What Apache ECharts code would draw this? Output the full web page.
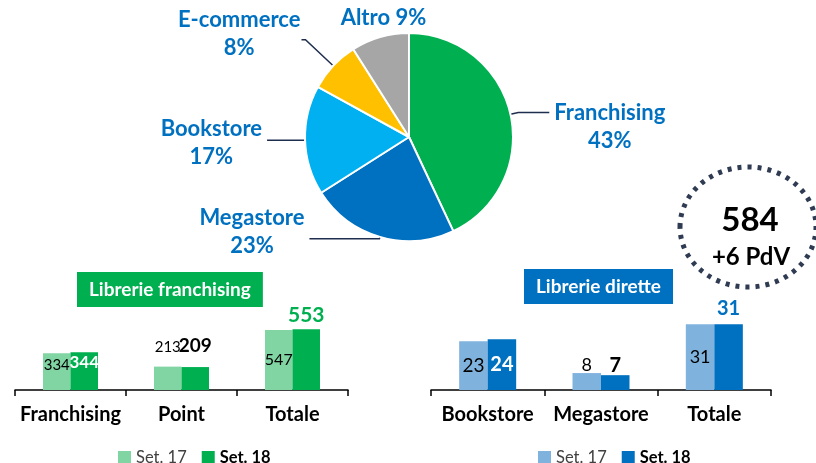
<!DOCTYPE html>
<html>
<head>
<meta charset="utf-8">
<script src="https://cdn.jsdelivr.net/npm/echarts@6/dist/echarts.min.js"></script>
<style>
  html, body { margin: 0; padding: 0; background: #fff; }
  #chart { width: 816px; height: 463px; }
</style>
</head>
<body>
<div id="chart"></div>
<script>
// ---- data ----
const pieNames = ['Franchising', 'Megastore', 'Bookstore', 'E-commerce', 'Altro'];
const pieValues = [43, 23, 17, 8, 9];

const franchCategories = ['Franchising', 'Point', 'Totale'];
const franchSet17 = [334, 213, 547];
const franchSet18 = [344, 209, 553];

const diretteCategories = ['Bookstore', 'Megastore', 'Totale'];
const diretteSet17 = [23, 8, 31];
const diretteSet18 = [24, 7, 31];

const seriesNames = ['Set. 17', 'Set. 18'];
const panelTitles = ['Librerie franchising', 'Librerie dirette'];
const totalStores = '584';
const totalDelta = '+6 PdV';

// ---- styles ----
const FONT = 'Lato';
const pieColors = ['#00B050', '#0070C0', '#00B0F0', '#FFC000', '#A6A6A6'];
const pieLabelTweaks = [
  { labelLine: { length: 8, length2: 31 }, label: { padding: [29, 0, 0, 0] } },
  { labelLine: { length: 2, length2: 70 }, label: { padding: [0, 0, 13, 0] } },
  { labelLine: { length: 2, length2: 36 }, label: { padding: [5, 0, 0, 0] } },
  { labelLine: { length: 38, length2: 4 }, label: { padding: [0, 0, 11, 0], distanceToLabelLine: 1 } },
  { labelLine: { show: false, length: 10, length2: 0 }, label: {} }
];
const greenLight = '#80D5A2', greenDark = '#00B050';
const blueLight = '#7FB3DE', blueDark = '#0070C0';

const lab = (o) => Object.assign({ show: true, fontFamily: FONT, color: '#000', fontSize: 16 }, o);
const franch17Labels = [
  lab({ position: 'insideTop', distance: 4, fontSize: 15 }),
  lab({ position: 'top', distance: 12, fontSize: 15 }),
  lab({ position: 'inside', fontSize: 16 })
];
const franch18Labels = [
  lab({ position: 'insideTop', distance: 2, color: '#fff', fontWeight: 'bold', fontSize: 17 }),
  lab({ position: 'top', distance: 12, fontWeight: 'bold', fontSize: 19 }),
  lab({ position: 'top', distance: 4, color: greenDark, fontWeight: 'bold', fontSize: 21 })
];
const dir17Labels = [
  lab({ position: 'inside', fontSize: 19 }),
  lab({ position: 'top', distance: -1, fontSize: 18 }),
  lab({ position: 'inside', fontSize: 18 })
];
const dir18Labels = [
  lab({ position: 'inside', color: '#fff', fontWeight: 'bold', fontSize: 20 }),
  lab({ position: 'top', distance: 0, fontWeight: 'bold', fontSize: 20 }),
  lab({ position: 'top', distance: 6, color: blueDark, fontWeight: 'bold', fontSize: 20 })
];

const withLabels = (vals, labels) => vals.map((v, i) => ({ value: v, label: labels[i] }));

const pieData = pieNames.map((n, i) => ({
  name: n,
  value: pieValues[i],
  itemStyle: { color: pieColors[i] },
  label: pieLabelTweaks[i].label,
  labelLine: pieLabelTweaks[i].labelLine
}));

const axisCommon = {
  type: 'category',
  axisLine: { lineStyle: { color: '#000', width: 1.5 } },
  axisTick: { show: true, length: 6, lineStyle: { color: '#000', width: 1.5 } },
  axisLabel: { interval: 0, fontFamily: FONT, fontWeight: 'bold', fontSize: 20, color: '#000', margin: 15 }
};

const legendCommon = {
  orient: 'horizontal',
  top: 449,
  padding: 0,
  itemWidth: 13,
  itemHeight: 13,
  itemGap: 15,
  icon: 'rect',
  textStyle: { fontFamily: FONT, fontSize: 16.5, color: '#404040' }
};

const chart = echarts.init(document.getElementById('chart'), null, { renderer: 'canvas' });
chart.setOption({
  animation: false,
  textStyle: { fontFamily: FONT },
  title: [
    { text: panelTitles[0], left: 77, top: 272, backgroundColor: greenDark, padding: [7, 12],
      textStyle: { color: '#fff', fontFamily: FONT, fontWeight: 'bold', fontSize: 19, lineHeight: 21 } },
    { text: panelTitles[1], left: 524, top: 269, backgroundColor: blueDark, padding: [7, 12],
      textStyle: { color: '#fff', fontFamily: FONT, fontWeight: 'bold', fontSize: 19, lineHeight: 21 } }
  ],
  legend: [
    Object.assign({}, legendCommon, { left: 118, data: [
      { name: seriesNames[0], itemStyle: { color: greenLight } },
      { name: seriesNames[1], itemStyle: { color: greenDark }, textStyle: { fontWeight: 'bold', color: '#000' } }
    ] }),
    Object.assign({}, legendCommon, { left: 538, data: [
      { name: seriesNames[0], itemStyle: { color: blueLight } },
      { name: seriesNames[1], itemStyle: { color: blueDark }, textStyle: { fontWeight: 'bold', color: '#000' } }
    ] })
  ],
  grid: [
    { left: 15, right: 468, top: 300, bottom: 73 },
    { left: 431, right: 45, top: 300, bottom: 73 }
  ],
  xAxis: [
    Object.assign({}, axisCommon, { gridIndex: 0, data: franchCategories }),
    Object.assign({}, axisCommon, { gridIndex: 1, data: diretteCategories })
  ],
  yAxis: [
    { type: 'value', gridIndex: 0, min: 0, max: 820, show: false },
    { type: 'value', gridIndex: 1, min: 0, max: 42.5, show: false }
  ],
  graphic: [
    { type: 'ellipse', shape: { cx: 748, cy: 227, rx: 68, ry: 60 },
      style: { fill: 'none', stroke: '#2F3B52', lineWidth: 5, lineDash: [4, 6] } },
    { type: 'text', x: 750, y: 220,
      style: { text: totalStores, fontFamily: FONT, fontWeight: 'bold', fontSize: 33, fill: '#000',
               textAlign: 'center', textVerticalAlign: 'middle' } },
    { type: 'text', x: 751, y: 257,
      style: { text: totalDelta, fontFamily: FONT, fontWeight: 'bold', fontSize: 24, fill: '#000',
               textAlign: 'center', textVerticalAlign: 'middle' } }
  ],
  series: [
    {
      type: 'pie',
      center: [409, 137],
      radius: 104,
      startAngle: 90,
      clockwise: true,
      avoidLabelOverlap: false,
      itemStyle: { borderColor: '#fff', borderWidth: 2 },
      label: {
        show: true,
        position: 'outside',
        distanceToLabelLine: 5,
        formatter: (p) => p.name === 'Altro'
          ? '{a|' + p.name + ' ' + p.value + '%}'
          : '{a|' + p.name + '}\n{a|' + p.value + '%}',
        rich: { a: { align: 'center', fontFamily: FONT, fontWeight: 'bold', fontSize: 22, lineHeight: 28, color: '#0070C0' } }
      },
      labelLine: { show: true, smooth: false, lineStyle: { color: '#1F2D4F', width: 1.5 } },
      labelLayout: (params) => params.dataIndex === 4 ? { dx: 54, dy: -10 } : {},
      data: pieData
    },
    { type: 'bar', name: seriesNames[0], xAxisIndex: 0, yAxisIndex: 0, barWidth: 27.5, barGap: '0%',
      itemStyle: { color: greenLight }, data: withLabels(franchSet17, franch17Labels) },
    { type: 'bar', name: seriesNames[1], xAxisIndex: 0, yAxisIndex: 0, barWidth: 27.5, barGap: '0%',
      itemStyle: { color: greenDark }, data: withLabels(franchSet18, franch18Labels) },
    { type: 'bar', name: seriesNames[0], xAxisIndex: 1, yAxisIndex: 1, barWidth: 28.5, barGap: '0%',
      itemStyle: { color: blueLight }, data: withLabels(diretteSet17, dir17Labels) },
    { type: 'bar', name: seriesNames[1], xAxisIndex: 1, yAxisIndex: 1, barWidth: 28.5, barGap: '0%',
      itemStyle: { color: blueDark }, data: withLabels(diretteSet18, dir18Labels) }
  ]
});
</script>
</body>
</html>
